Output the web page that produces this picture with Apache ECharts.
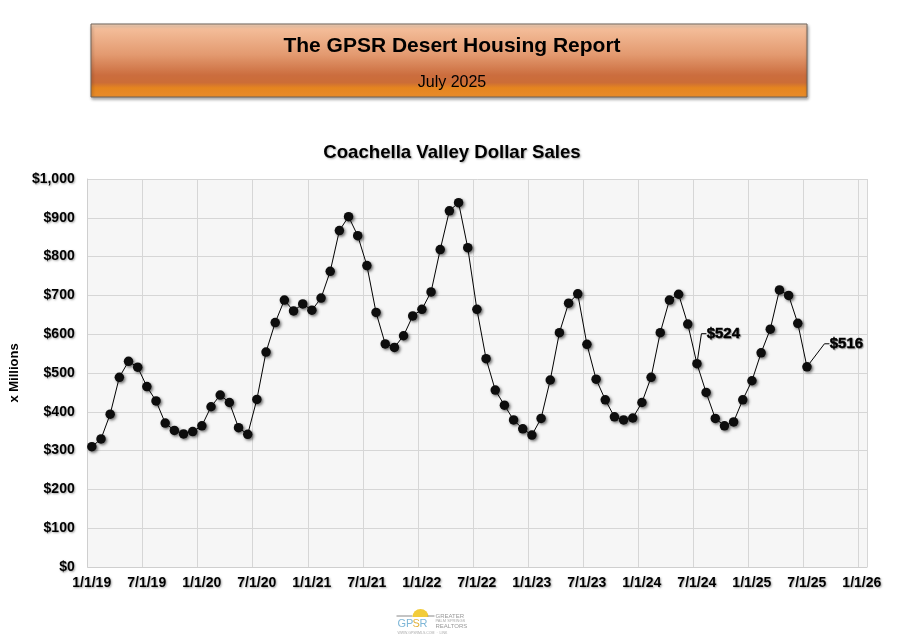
<!DOCTYPE html>
<html>
<head>
<meta charset="utf-8">
<script src="https://cdn.jsdelivr.net/npm/echarts@6/dist/echarts.min.js"></script>
<style>
html,body{margin:0;padding:0;background:#fff;}
#chart{width:904px;height:641px;}
</style>
</head>
<body>
<div id="chart"></div>
<script>
// ---- data ----
const reportTitle = 'The GPSR Desert Housing Report';
const reportDate = 'July 2025';
const chartTitle = 'Coachella Valley Dollar Sales';
const yAxisName = 'x Millions';

// months (first of month), Jan 2019 .. Jul 2025
const months = [
  '2019-01','2019-02','2019-03','2019-04','2019-05','2019-06','2019-07','2019-08','2019-09','2019-10','2019-11','2019-12',
  '2020-01','2020-02','2020-03','2020-04','2020-05','2020-06','2020-07','2020-08','2020-09','2020-10','2020-11','2020-12',
  '2021-01','2021-02','2021-03','2021-04','2021-05','2021-06','2021-07','2021-08','2021-09','2021-10','2021-11','2021-12',
  '2022-01','2022-02','2022-03','2022-04','2022-05','2022-06','2022-07','2022-08','2022-09','2022-10','2022-11','2022-12',
  '2023-01','2023-02','2023-03','2023-04','2023-05','2023-06','2023-07','2023-08','2023-09','2023-10','2023-11','2023-12',
  '2024-01','2024-02','2024-03','2024-04','2024-05','2024-06','2024-07','2024-08','2024-09','2024-10','2024-11','2024-12',
  '2025-01','2025-02','2025-03','2025-04','2025-05','2025-06','2025-07'
];
// dollar sales, $ millions
const dollarSales = [
  310,330,394,489,530,515,465,428,371,352,343,349,
  364,413,443,424,359,342,432,554,630,688,660,678,
  662,693,762,867,903,854,777,656,575,566,596,647,
  664,709,818,918,939,823,664,537,456,417,379,356,
  340,383,482,604,680,704,574,484,431,387,379,384,
  424,489,604,688,703,626,524,450,383,364,374,431,
  480,552,613,714,700,628,516
];
// callouts shown on the chart
const callouts = ['2024-07','2025-07'];
// x-axis tick labels (every 6 months from 1/1/19)
const xTickLabels = ['1/1/19','7/1/19','1/1/20','7/1/20','1/1/21','7/1/21','1/1/22','7/1/22','1/1/23','7/1/23','1/1/24','7/1/24','1/1/25','7/1/25','1/1/26'];
const yTickValues = [0,100,200,300,400,500,600,700,800,900,1000];

// ---- chart ----
const FONT = "'Liberation Sans', Arial, sans-serif";
const axisStart = {y: 2019, m: 1};
function monthIndex(s){
  const [y, m] = s.split('-').map(Number);
  return (y - axisStart.y) * 12 + (m - axisStart.m);
}
const PLOT_OFFSET = 0.45; // points plotted mid-month
const calloutOffsets = {'2024-07': [0, -30], '2025-07': [13, -23]};

const calloutLabel = {
  show: true, position: 'right', distance: 5,
  formatter: p => '{c|$' + p.value[1] + '}',
  rich: {
    c: {
      fontFamily: FONT, fontWeight: 'bold', fontSize: 15, color: '#000',
      textBorderColor: '#000', textBorderWidth: 0.5,
      textShadowColor: 'rgba(0,0,0,0.3)', textShadowBlur: 1, textShadowOffsetX: 1, textShadowOffsetY: 1
    }
  }
};

const seriesData = months.map((d, i) => {
  const item = {value: [monthIndex(d) + PLOT_OFFSET, dollarSales[i]], name: d};
  if (callouts.includes(d)) {
    item.label = Object.assign({}, calloutLabel);
    item.labelLine = {show: true, length2: 5, lineStyle: {color: '#000', width: 1}};
  }
  return item;
});

const labelShadow = {textShadowColor: 'rgba(0,0,0,0.35)', textShadowBlur: 2, textShadowOffsetX: 1, textShadowOffsetY: 1};

const chart = echarts.init(document.getElementById('chart'), null, {renderer: 'canvas'});
chart.setOption({
  backgroundColor: '#ffffff',
  animation: false,
  title: [
    {text: reportTitle, left: 'center', top: 31,
     textStyle: {fontFamily: FONT, fontWeight: 'bold', fontSize: 21, color: '#000'}},
    {text: reportDate, left: 'center', top: 70,
     textStyle: {fontFamily: FONT, fontWeight: 'normal', fontSize: 16, color: '#000'}},
    {text: chartTitle, left: 'center', top: 138,
     textStyle: Object.assign({fontFamily: FONT, fontWeight: 'bold', fontSize: 18.6, color: '#000'}, labelShadow)}
  ],
  graphic: [
    {type: 'rect', z: -1, shape: {x: 91, y: 24, width: 716, height: 73},
     style: {
       fill: new echarts.graphic.LinearGradient(0, 0, 0, 1, [
         {offset: 0, color: '#fbdcc4'},
         {offset: 0.08, color: '#f3bc98'},
         {offset: 0.42, color: '#e39a70'},
         {offset: 0.7, color: '#cb6d3e'},
         {offset: 0.8, color: '#cc6d37'},
         {offset: 0.87, color: '#e5851f'},
         {offset: 1, color: '#e88b2a'}
       ]),
       stroke: '#6f6259', lineWidth: 1,
       shadowColor: 'rgba(0,0,0,0.35)', shadowBlur: 3, shadowOffsetX: 1, shadowOffsetY: 2
     }},
    {type: 'group', left: 394, top: 609, children: [
      {type: 'line', shape: {x1: 0, y1: 7, x2: 16, y2: 7}, style: {stroke: '#888', lineWidth: 1}},
      {type: 'sector', shape: {cx: 24, cy: 8, r0: 0, r: 8, startAngle: Math.PI, endAngle: 2 * Math.PI}, style: {fill: '#f2cc3a'}},
      {type: 'line', shape: {x1: 31, y1: 7, x2: 38, y2: 7}, style: {stroke: '#888', lineWidth: 1}},
      {type: 'text', style: {x: 1, y: 9, text: 'GP', fontFamily: FONT, fontSize: 11, fill: '#7fb7d7'}},
      {type: 'text', style: {x: 16, y: 9, text: 'S', fontFamily: FONT, fontSize: 11, fill: '#e3b33c'}},
      {type: 'text', style: {x: 23, y: 9, text: 'R', fontFamily: FONT, fontSize: 11, fill: '#7fb7d7'}},
      {type: 'text', style: {x: 39, y: 4, text: 'GREATER', fontFamily: FONT, fontSize: 6, fill: '#999'}},
      {type: 'text', style: {x: 39, y: 10, text: 'PALM SPRINGS', fontFamily: FONT, fontSize: 4, fill: '#aaa'}},
      {type: 'text', style: {x: 39, y: 14, text: 'REALTORS', fontFamily: FONT, fontSize: 6, fill: '#999'}},
      {type: 'text', style: {x: 1, y: 22, text: 'WWW.GPSRMLS.COM  ·  LINK', fontFamily: FONT, fontSize: 3.5, fill: '#aaa'}}
    ]}
  ],
  grid: {left: 86, top: 179, right: 37, bottom: 74, show: true, backgroundColor: '#f6f6f6', borderWidth: 0},
  xAxis: {
    type: 'value', min: 0, max: 85, interval: 6,
    axisLine: {show: true, lineStyle: {color: '#cfcfcf', width: 1}},
    axisTick: {show: false},
    splitLine: {show: true, lineStyle: {color: '#d6d6d6', width: 1}},
    axisLabel: Object.assign({
      margin: 9, padding: [0, 0, 0, 8], fontFamily: FONT, fontWeight: 'bold', fontSize: 14, color: '#000',
      showMaxLabel: true,
      formatter: v => (v % 6 === 0 ? (xTickLabels[v / 6] || '') : '')
    }, labelShadow)
  },
  yAxis: {
    type: 'value', min: yTickValues[0], max: yTickValues[yTickValues.length - 1], interval: yTickValues[1] - yTickValues[0],
    name: yAxisName, nameLocation: 'middle', nameGap: 60, nameRotate: 90,
    nameTextStyle: {fontFamily: FONT, fontWeight: 'bold', fontSize: 13, color: '#000'},
    axisLine: {show: true, lineStyle: {color: '#cfcfcf', width: 1}},
    axisTick: {show: false},
    splitLine: {show: true, lineStyle: {color: '#d6d6d6', width: 1}},
    axisLabel: Object.assign({
      margin: 13, fontFamily: FONT, fontWeight: 'bold', fontSize: 14, color: '#000',
      formatter: v => '$' + v.toLocaleString('en-US')
    }, labelShadow)
  },
  series: [{
    type: 'line',
    data: seriesData,
    symbol: 'circle', symbolSize: 9.5,
    showSymbol: true,
    lineStyle: {color: '#000', width: 1},
    itemStyle: {color: '#0d0d0d', shadowColor: 'rgba(0,0,0,0.55)', shadowBlur: 3, shadowOffsetX: 1.5, shadowOffsetY: 1.5},
    label: Object.assign({}, calloutLabel, {show: false}),
    labelLine: {show: false, length2: 5, lineStyle: {color: '#000', width: 1}},
    labelLayout: p => {
      const d = months[p.dataIndex];
      const off = calloutOffsets[d];
      return off ? {dx: off[0], dy: off[1]} : {};
    },
    emphasis: {disabled: true}
  }]
});
</script>
</body>
</html>
